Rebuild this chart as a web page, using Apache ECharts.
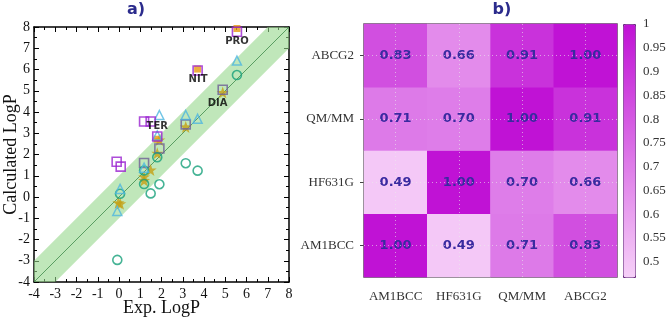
<!DOCTYPE html>
<html>
<head>
<meta charset="utf-8">
<script src="https://cdn.jsdelivr.net/npm/echarts@6/dist/echarts.min.js"></script>
<style>
  html, body { margin: 0; padding: 0; background: #fff; }
  #chart { width: 666px; height: 319px; }
</style>
</head>
<body>
<div id="chart"></div>
<script>
// ---- panel a) data: [exp, calc] ----
const purpleSquares = [[5.55, 7.78], [3.70, 5.95], [1.18, 3.55], [1.49, 3.55], [-0.11, 1.66], [0.08, 1.43], [1.80, 2.85]];
const orangeSquares = [[5.55, 7.93], [3.70, 6.02], [1.80, 2.72]];
const graySquares = [[4.88, 5.05], [3.14, 3.42], [1.90, 2.28], [1.18, 1.60]];
const cyanTriangles = [[5.55, 6.42], [3.70, 3.68], [3.14, 3.86], [1.90, 3.86], [1.80, 2.90], [1.18, 1.38], [0.05, 0.38], [-0.08, -0.66]];
const greenCircles = [[5.55, 5.74], [1.80, 1.87], [1.18, 1.25], [1.18, 0.61], [1.90, 0.60], [1.49, 0.17], [3.14, 1.59], [3.70, 1.24], [0.05, 0.15], [-0.08, -2.96]];
const oliveStars = [[4.88, 4.92], [3.14, 3.30], [1.90, 2.68], [1.80, 2.06], [1.49, 1.27], [1.18, 0.95], [1.18, 0.78], [-0.03, -0.27], [0.06, -0.32]];
const moleculeLabels = [['PRO', 5.55, 7.30], ['NIT', 3.72, 5.55], ['DIA', 4.64, 4.42], ['TER', 1.80, 3.30]];
const axisRange = [-4, 8];
const bandHalf = 1;

// ---- panel b) data ----
const methods = ['AM1BCC', 'HF631G', 'QM/MM', 'ABCG2'];
// rows bottom -> top, columns left -> right
const corrRows = [
  [1.00, 0.49, 0.71, 0.83],
  [0.49, 1.00, 0.70, 0.66],
  [0.71, 0.70, 1.00, 0.91],
  [0.83, 0.66, 0.91, 1.00]
];
const cbTicks = [0.5, 0.55, 0.6, 0.65, 0.7, 0.75, 0.8, 0.85, 0.9, 0.95, 1];
const cbRange = [0.468, 1];

const heatData = [];
corrRows.forEach((row, yi) => row.forEach((v, xi) => heatData.push([xi, yi, v])));
// half-cell slots, used only to put the dotted grid through the cell centres
const halfSlots = Array.from({ length: methods.length * 2 + 1 }, (_, i) => 's' + i);

const serif = 'Liberation Serif';
const starPath = 'path://M50,0 L62,34 L98,35 L69,56 L80,92 L50,71 L20,92 L31,56 L2,35 L38,34 Z';

const myChart = echarts.init(document.getElementById('chart'));

const scatterAxisCommon = {
  type: 'value', min: axisRange[0], max: axisRange[1], interval: 1,
  axisLine: { show: true, onZero: false, lineStyle: { color: '#000', width: 1.5 } },
  axisTick: { show: true, inside: true, length: 5, lineStyle: { color: '#000' } },
  minorTick: { show: true, splitNumber: 2, length: 3, lineStyle: { color: '#000' } },
  splitLine: { show: false }
};
const dotGrid = {
  type: 'category', gridIndex: 1, data: halfSlots, boundaryGap: false, z: 10,
  axisLine: { show: false }, axisTick: { show: false }, axisLabel: { show: false },
  splitLine: { show: true, interval: (i) => i % 2 === 1, lineStyle: { color: 'rgba(235,235,235,0.6)', type: [1, 3], width: 1 } }
};

const option = {
  animation: false,
  backgroundColor: '#fff',
  title: [
    { text: 'a)', left: 131, top: -3, textAlign: 'center',
      textStyle: { fontFamily: 'DejaVu Sans', fontWeight: 'bold', fontSize: 16, color: '#2b2b8c' } },
    { text: 'b)', left: 497, top: -3, textAlign: 'center',
      textStyle: { fontFamily: 'DejaVu Sans', fontWeight: 'bold', fontSize: 16, color: '#2b2b8c' } }
  ],
  grid: [
    { left: 34, top: 27, width: 255, height: 255, show: false, outerBoundsMode: 'none', containLabel: false },
    { left: 364, top: 24, width: 253, height: 253, show: true, borderColor: '#555', borderWidth: 1.5,
      backgroundColor: 'transparent', outerBoundsMode: 'none', containLabel: false },
    { left: 623, top: 24, width: 12, height: 253, show: false, outerBoundsMode: 'none', containLabel: false }
  ],
  xAxis: [
    Object.assign({}, scatterAxisCommon, {
      gridIndex: 0, position: 'bottom',
      name: 'Exp. LogP', nameLocation: 'middle', nameGap: 17, nameMoveOverlap: false,
      nameTextStyle: { fontFamily: serif, fontSize: 18, color: '#111' },
      axisLabel: { fontFamily: serif, fontSize: 14, color: '#111', margin: 5 }
    }),
    Object.assign({}, scatterAxisCommon, {
      gridIndex: 0, position: 'top', axisLabel: { show: false }
    }),
    {
      type: 'category', gridIndex: 1, data: methods, position: 'bottom',
      axisLine: { show: false },
      axisTick: { show: true, alignWithLabel: true, inside: true, length: 4, lineStyle: { color: '#444' } },
      axisLabel: { interval: 0, fontFamily: serif, fontSize: 13, color: '#333', margin: 13 },
      splitLine: { show: false }
    },
    { type: 'category', gridIndex: 2, show: false, data: ['cb'] },
    Object.assign({}, dotGrid, { position: 'top' })
  ],
  yAxis: [
    Object.assign({}, scatterAxisCommon, {
      gridIndex: 0, position: 'left',
      name: 'Calculated LogP', nameLocation: 'middle', nameGap: 14, nameMoveOverlap: false,
      nameTextStyle: { fontFamily: serif, fontSize: 18, color: '#111' },
      axisLabel: { fontFamily: serif, fontSize: 14, color: '#111', margin: 4 }
    }),
    Object.assign({}, scatterAxisCommon, {
      gridIndex: 0, position: 'right', axisLabel: { show: false }
    }),
    {
      type: 'category', gridIndex: 1, data: methods, position: 'left',
      axisLine: { show: false },
      axisTick: { show: true, alignWithLabel: true, length: 4, lineStyle: { color: '#444' } },
      axisLabel: { interval: 0, fontFamily: serif, fontSize: 13, color: '#333', margin: 10 },
      splitLine: { show: false }
    },
    {
      type: 'value', gridIndex: 2, position: 'right', min: cbRange[0], max: cbRange[1],
      axisLine: { show: false },
      axisTick: { show: true, inside: true, length: 4, customValues: cbTicks, lineStyle: { color: '#444' } },
      axisLabel: { fontFamily: serif, fontSize: 13, color: '#333', margin: 8, customValues: cbTicks,
        formatter: v => String(+v.toFixed(2)) },
      splitLine: { show: false }
    },
    Object.assign({}, dotGrid, { position: 'right' })
  ],
  visualMap: {
    type: 'continuous', seriesIndex: 8, min: cbRange[0], max: cbRange[1],
    calculable: false, orient: 'vertical', left: 623, top: 24,
    itemWidth: 12, itemHeight: 253, padding: 0,
    borderColor: '#6a2a80', borderWidth: 1,
    inRange: { color: ['#f6d0f8', '#c012d5'] },
    text: null
  },
  series: [
    {
      type: 'custom', xAxisIndex: 0, yAxisIndex: 0, clip: true, silent: true, z: 1,
      data: [axisRange],
      renderItem: (params, api) => {
        const a = api.value(0), b = api.value(1);
        const pts = [api.coord([a, a - bandHalf]), api.coord([b, b - bandHalf]),
                     api.coord([b, b + bandHalf]), api.coord([a, a + bandHalf])];
        return { type: 'polygon', shape: { points: pts }, style: { fill: 'rgba(150,215,140,0.6)' } };
      }
    },
    {
      type: 'line', xAxisIndex: 0, yAxisIndex: 0, data: [[axisRange[0], axisRange[0]], [axisRange[1], axisRange[1]]],
      symbol: 'none', silent: true, z: 2, lineStyle: { color: '#3f8a4a', width: 0.8 }
    },
    {
      name: 'stars', type: 'scatter', data: oliveStars, symbol: starPath, symbolSize: 12, z: 3,
      itemStyle: { color: '#c4a014' }
    },
    {
      name: 'circles', type: 'scatter', data: greenCircles, symbol: 'circle', symbolSize: 9, z: 4,
      itemStyle: { color: 'transparent', borderColor: '#16a07a', borderWidth: 1.6 }
    },
    {
      name: 'triangles', type: 'scatter', data: cyanTriangles, symbol: 'triangle', symbolSize: 9, z: 4,
      itemStyle: { color: 'transparent', borderColor: '#4fb6e0', borderWidth: 1.5 }
    },
    {
      name: 'gray', type: 'scatter', data: graySquares, symbol: 'rect', symbolSize: 9, z: 3,
      itemStyle: { color: 'transparent', borderColor: '#6e5f96', borderWidth: 1.6 }
    },
    {
      name: 'orange', type: 'scatter', data: orangeSquares, symbol: 'rect', symbolSize: 7, z: 3,
      itemStyle: { color: '#e89a10' }
    },
    {
      name: 'purple', type: 'scatter', data: purpleSquares, symbol: 'rect', symbolSize: 9, z: 4,
      itemStyle: { color: 'transparent', borderColor: '#9a22d0', borderWidth: 1.6 }
    },
    {
      type: 'heatmap', xAxisIndex: 2, yAxisIndex: 2, data: heatData,
      label: {
        show: true, fontFamily: 'DejaVu Sans', fontWeight: 'bold', fontSize: 13, color: '#3a2aa0',
        formatter: p => p.value[2].toFixed(2)
      },
      itemStyle: { borderWidth: 0 }
    },
    {
      type: 'scatter', xAxisIndex: 0, yAxisIndex: 0, z: 6, silent: true,
      data: moleculeLabels.map(d => ({ value: [d[1], d[2]], name: d[0] })),
      symbol: 'circle', symbolSize: 2,
      itemStyle: { color: 'transparent' },
      label: { show: true, position: 'inside', formatter: '{b}', fontFamily: 'DejaVu Sans', fontWeight: 'bold', fontSize: 10, color: '#000' }
    }
  ]
};

myChart.setOption(option);
window.addEventListener('resize', function () {
  myChart.resize();
});
</script>
</body>
</html>
